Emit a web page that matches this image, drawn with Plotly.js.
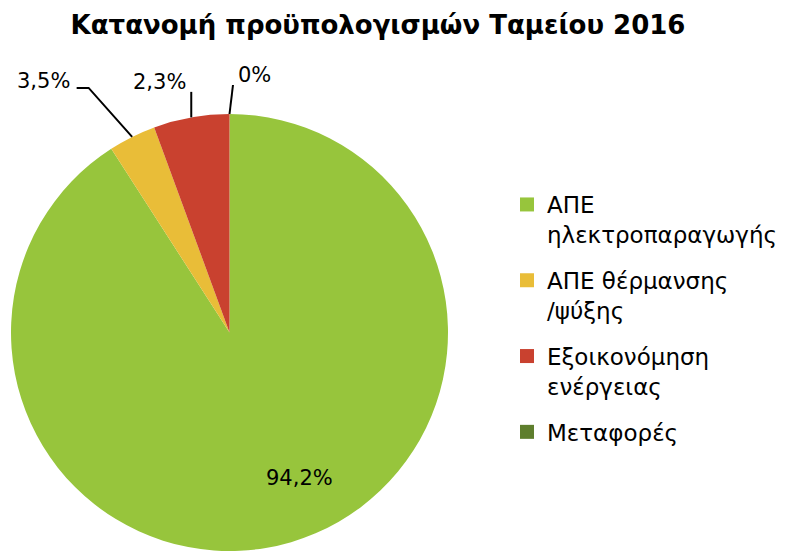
<!DOCTYPE html>
<html><head><meta charset="utf-8">
<script src="https://cdn.plot.ly/plotly-3.0.1.min.js"></script>
<style>html,body{margin:0;padding:0;background:#fff}</style>
</head><body><div id="chart" style="width:785px;height:553px"></div>
<script>
// ---- data ----
const categories = ["ΑΠΕ<br>ηλεκτροπαραγωγής", "ΑΠΕ θέρμανσης<br>/ψύξης", "Εξοικονόμηση<br>ενέργειας", "Μεταφορές"];
const shares = [90.9, 3.5, 5.6, 0];          // slice sizes as drawn
const labelTexts = ["94,2%", "3,5%", "2,3%", "0%"]; // printed data labels
const sliceColors = ["#97c53c", "#e9bd38", "#c9412f", "#5e7e2d"];

// ---- layout geometry ----
const W = 785, H = 553;
const dom = {x0: 11, x1: 448, y0: 114, y1: 551}; // pie box in px
const CX = (dom.x0 + dom.x1) / 2, CY = (dom.y0 + dom.y1) / 2, R = (dom.x1 - dom.x0) / 2;
const px = x => x / W, py = y => 1 - y / H;

const total = shares.reduce((a, b) => a + b, 0);
function midAngle(i) {
  let start = 0;
  for (let k = 0; k < i; k++) start += shares[k];
  return (start + shares[i] / 2) / total * 360;
}
function edge(i) {
  const t = midAngle(i) * Math.PI / 180;
  return [CX + R * Math.sin(t), CY - R * Math.cos(t)];
}

const labelFont = {family: "DejaVu Sans", size: 21, color: "#000"};
// leader line styles: offsets from slice edge point, and label anchor
const leaders = {
  1: {pts: [[-43.5, -49], [-55.5, -49]], tx: -60, ty: -56, anchor: "right"},
  2: {pts: [[0, -25.5]], tx: -3, ty: -35, anchor: "right"},
  3: {pts: [[3.5, -29]], tx: 7, ty: -39, anchor: "left"}
};

const shapes = [], annotations = [];
Object.keys(leaders).forEach(k => {
  const i = +k, L = leaders[k];
  const [ex, ey] = edge(i);
  let path = `M${px(ex)},${py(ey)}`;
  L.pts.forEach(([dx, dy]) => { path += ` L${px(ex + dx)},${py(ey + dy)}`; });
  shapes.push({type: "path", xref: "paper", yref: "paper", path: path, line: {color: "#000", width: 2}});
  annotations.push({xref: "paper", yref: "paper", x: px(ex + L.tx), y: py(ey + L.ty),
    text: labelTexts[i], showarrow: false, xanchor: L.anchor, yanchor: "middle", font: labelFont});
});
// label of the big slice, inside it
annotations.push({xref: "paper", yref: "paper", x: px(CX + 70), y: py(CY + 145),
  text: labelTexts[0], showarrow: false, xanchor: "center", yanchor: "middle", font: labelFont});

const pieTrace = {
  type: "pie",
  labels: categories,
  values: shares,
  textinfo: "none",
  sort: false,
  direction: "clockwise",
  rotation: 0,
  marker: {colors: sliceColors, line: {width: 0}},
  domain: {x: [px(dom.x0), px(dom.x1)], y: [py(dom.y1), py(dom.y0)]},
  showlegend: false,
  hoverinfo: "label+percent"
};

// legend entries (one per category, each in its own group for spacing)
const legendTraces = categories.map((c, i) => ({
  type: "scatter", mode: "markers", x: [null], y: [null], name: c,
  legendgroup: "g" + i, showlegend: true,
  marker: {symbol: "square", size: 14, color: sliceColors[i], line: {width: 0}},
  hoverinfo: "skip"
}));

const layout = {
  width: W, height: H,
  margin: {l: 0, r: 0, t: 0, b: 0},
  paper_bgcolor: "#fff",
  plot_bgcolor: "rgba(0,0,0,0)",
  xaxis: {visible: false, fixedrange: true},
  yaxis: {visible: false, fixedrange: true},
  title: {text: "<b>Κατανομή προϋπολογισμών Ταμείου 2016</b>", x: 378 / W, xanchor: "center",
          y: 1 - 25 / H, yanchor: "middle", font: {family: "DejaVu Sans", size: 26, color: "#000"}},
  showlegend: true,
  legend: {x: 507 / W, y: py(183), xanchor: "left", yanchor: "top", valign: "top",
           traceorder: "grouped", tracegroupgap: 13,
           font: {family: "DejaVu Sans", size: 23, color: "#000"}, bgcolor: "rgba(0,0,0,0)"},
  shapes: shapes,
  annotations: annotations
};

Plotly.newPlot("chart", [pieTrace].concat(legendTraces), layout, {displayModeBar: false, staticPlot: true});
</script></body></html>
